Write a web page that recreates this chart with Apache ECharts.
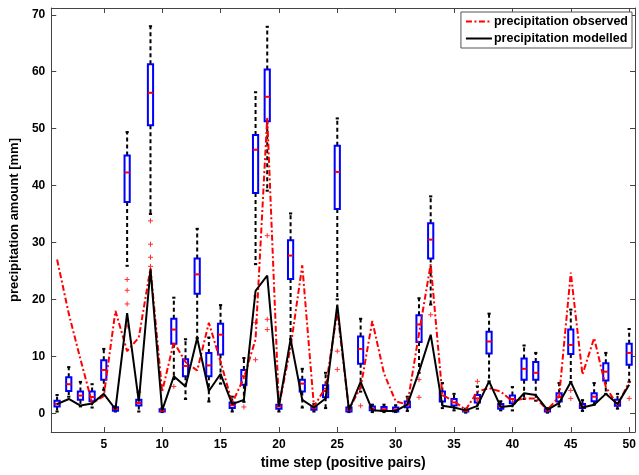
<!DOCTYPE html>
<html><head><meta charset="utf-8">
<script src="https://cdn.jsdelivr.net/npm/echarts@6/dist/echarts.min.js"></script>
<style>html,body{margin:0;padding:0;background:#fff}#c{width:639px;height:475px}</style>
</head><body><div id="c"></div>
<script>
const timeSteps = [1,2,3,4,5,6,7,8,9,10,11,12,13,14,15,16,17,18,19,20,21,22,23,24,25,26,27,28,29,30,31,32,33,34,35,36,37,38,39,40,41,42,43,44,45,46,47,48,49,50];
const observed = [27.0,17.5,9.5,1.8,3.0,18.0,10.9,13.3,25.5,3.8,12.5,9.0,7.5,15.9,9.1,1.8,6.2,13.0,52.0,1.2,11.6,26.0,1.2,4.5,17.9,0.7,4.5,16.2,7.0,2.1,1.5,14.0,26.2,3.2,2.1,0.6,3.8,4.4,3.8,2.1,2.6,2.6,0.6,2.9,24.7,6.8,13.2,4.6,1.4,5.5];
const modelled = [1.6,2.5,1.35,1.7,3.4,0.7,17.6,2.05,25.3,0.5,6.5,4.7,13.2,3.9,6.9,1.6,2.35,21.5,24.2,1.2,13.0,2.35,1.0,2.6,19.1,0.5,5.5,0.5,0.4,0.4,1.5,7.3,13.8,1.3,1.0,0.5,1.3,5.6,1.1,1.3,3.5,3.2,0.6,1.8,5.5,1.0,1.5,3.4,1.6,5.0];
const boxLow  = [0.3,2.9,1.2,1.0,4.1,0.3,25.9,0.3,35.0,0.2,6.0,2.5,13.2,2.05,5.2,0.3,2.0,26.2,39.1,0.3,13.0,1.0,0.3,0.9,20.0,0.2,3.8,0.2,0.2,0.2,0.4,7.1,19.1,0.9,0.5,0.1,0.8,5.6,0.5,0.5,2.5,2.2,0.1,1.2,5.5,0.4,1.5,3.4,0.8,5.5];
const boxQ1   = [1.2,3.9,2.35,2.1,5.9,0.45,37.1,1.35,50.6,0.3,12.2,6.5,21.0,6.5,10.3,0.9,5.0,38.7,51.3,0.8,23.6,3.8,0.6,2.8,35.9,0.3,8.7,0.5,0.4,0.3,1.05,12.5,27.2,2.05,1.35,0.3,1.9,10.5,0.8,1.75,5.9,5.9,0.3,2.05,10.4,0.9,2.1,5.75,1.3,8.5];
const boxMed  = [1.65,5.1,3.1,2.85,7.6,0.75,42.3,1.8,56.3,0.45,14.7,8.3,24.4,8.4,13.8,1.4,6.5,46.3,55.6,1.2,27.7,5.2,0.9,3.9,42.4,0.6,11.3,0.8,0.7,0.6,1.5,15.6,30.5,3.1,1.9,0.4,2.6,12.6,1.2,2.5,7.8,7.1,0.5,2.85,12.0,1.2,2.9,7.3,1.8,10.6];
const boxQ3   = [2.2,6.3,3.8,3.8,9.3,1.05,45.3,2.35,61.3,0.7,16.6,9.5,27.2,10.6,15.7,1.9,7.6,48.9,60.4,1.5,30.4,5.9,1.2,4.9,47.0,1.0,13.5,1.2,1.1,1.0,2.05,17.2,33.4,3.8,2.5,0.6,3.2,14.3,1.6,3.1,9.6,9.0,0.7,3.5,14.7,1.6,3.5,8.8,2.35,12.2];
const boxHigh = [3.2,8.1,5.5,5.1,11.3,1.2,49.4,3.9,68.0,0.9,20.3,13.0,32.4,13.3,19.0,2.9,9.7,56.4,67.9,2.0,35.1,7.8,1.6,7.1,51.8,1.3,16.6,1.5,1.5,1.4,2.9,20.2,38.1,5.3,3.4,0.8,4.7,17.5,2.1,4.6,11.9,10.6,0.9,5.3,18.2,2.3,5.3,10.6,3.4,14.8];
const outlierSteps  = [7,7,7,7,8,9,9,9,9,11,17,18,18,18,19,19,19,25,25,27,32,32,33,37,37,45,45,50];
const outlierValues = [23.5,21.6,19.2,15.3,3.7,33.8,29.7,27.4,25.8,4.7,1.1,20.6,15.9,9.4,31.2,16.5,14.7,10.9,7.7,1.3,5.9,2.8,17.3,5.6,2.3,4.0,2.6,2.6];
const xTicks = [5,10,15,20,25,30,35,40,45,50];
const yTicks = [0,10,20,30,40,50,60,70];

const chart = echarts.init(document.getElementById('c'), null, {renderer:'canvas'});
const boxData = timeSteps.map((s,i)=>[s, boxLow[i], boxQ1[i], boxMed[i], boxQ3[i], boxHigh[i]]);
const outData = outlierSteps.map((s,i)=>[s, outlierValues[i]]);

function renderBox(params, api){
  const x = api.value(0);
  const lo = api.coord([x, api.value(1)]);
  const q1 = api.coord([x, api.value(2)]);
  const md = api.coord([x, api.value(3)]);
  const q3 = api.coord([x, api.value(4)]);
  const hi = api.coord([x, api.value(5)]);
  const cx = lo[0], hw = 2.6, cw = 1.6;
  const dash = {stroke:'#000', lineWidth:2, lineDash:[4,3], fill:null};
  const solid = {stroke:'#000', lineWidth:2, fill:null};
  return {type:'group', children:[
    {type:'line', shape:{x1:cx,y1:q3[1],x2:cx,y2:hi[1]}, style:dash},
    {type:'line', shape:{x1:cx,y1:q1[1],x2:cx,y2:lo[1]}, style:dash},
    {type:'line', shape:{x1:cx-cw,y1:hi[1],x2:cx+cw,y2:hi[1]}, style:solid},
    {type:'line', shape:{x1:cx-cw,y1:lo[1],x2:cx+cw,y2:lo[1]}, style:solid},
    {type:'rect', shape:{x:cx-hw,y:q3[1],width:2*hw,height:Math.max(q1[1]-q3[1],1)}, style:{fill:'#fff', stroke:'#0000ff', lineWidth:2}},
    {type:'line', shape:{x1:cx-hw,y1:md[1],x2:cx+hw,y2:md[1]}, style:{stroke:'#ff0000', lineWidth:2}}
  ]};
}
function renderPlus(params, api){
  const p = api.coord([api.value(0), api.value(1)]);
  const s = 2.5;
  return {type:'group', children:[
    {type:'line', shape:{x1:p[0]-s,y1:p[1],x2:p[0]+s,y2:p[1]}, style:{stroke:'#ff3030',lineWidth:1}},
    {type:'line', shape:{x1:p[0],y1:p[1]-s,x2:p[0],y2:p[1]+s}, style:{stroke:'#ff3030',lineWidth:1}}
  ]};
}
const axisCol = '#444';
const labelFont = {color:'#000', fontWeight:'bold', fontSize:12, fontFamily:'Liberation Sans, Arial, sans-serif'};
chart.setOption({
  animation:false,
  backgroundColor:'#fff',
  grid:{left:48, right:4, top:8, bottom:43, containLabel:false},
  legend:{
    data:['precipitation observed','precipitation modelled'],
    orient:'vertical', right:7, top:12, itemGap:4, itemWidth:26, itemHeight:10,
    padding:[3,4,3,4], borderColor:'#555', borderWidth:1, backgroundColor:'#fff',
    itemStyle:{opacity:0},
    textStyle:{color:'#000', fontWeight:'bold', fontSize:12.5, fontFamily:'Liberation Sans, Arial, sans-serif', padding:[0,0,0,-3]},
    selectedMode:false
  },
  xAxis:[
    {type:'value', min:0.5, max:50.5, position:'bottom',
     name:'time step (positive pairs)', nameLocation:'middle', nameGap:22,
     nameTextStyle:{color:'#000', fontWeight:'bold', fontSize:14, fontFamily:'Liberation Sans, Arial, sans-serif'},
     axisLine:{show:true, onZero:false, lineStyle:{color:axisCol, width:1}},
     axisTick:{show:true, inside:true, length:5, customValues:xTicks, lineStyle:{color:axisCol}},
     axisLabel:{show:true, customValues:xTicks, margin:7, ...labelFont},
     splitLine:{show:false}},
    {type:'value', min:0.5, max:50.5, position:'top',
     axisLine:{show:true, onZero:false, lineStyle:{color:axisCol, width:1}},
     axisTick:{show:true, inside:true, length:5, customValues:xTicks, lineStyle:{color:axisCol}},
     axisLabel:{show:false}, splitLine:{show:false}}
  ],
  yAxis:[
    {type:'value', min:-3.3, max:71.2, position:'left',
     name:'precipitation amount [mm]', nameLocation:'middle', nameGap:26, nameRotate:90,
     nameTextStyle:{color:'#000', fontWeight:'bold', fontSize:13, fontFamily:'Liberation Sans, Arial, sans-serif'},
     axisLine:{show:true, onZero:false, lineStyle:{color:axisCol, width:1}},
     axisTick:{show:true, inside:true, length:5, customValues:yTicks, lineStyle:{color:axisCol}},
     axisLabel:{show:true, customValues:yTicks, margin:6, ...labelFont},
     splitLine:{show:false}},
    {type:'value', min:-3.3, max:71.2, position:'right',
     axisLine:{show:true, onZero:false, lineStyle:{color:axisCol, width:1}},
     axisTick:{show:true, inside:true, length:5, customValues:yTicks, lineStyle:{color:axisCol}},
     axisLabel:{show:false}, splitLine:{show:false}}
  ],
  series:[
    {type:'custom', name:'boxes', renderItem:renderBox, data:boxData, encode:{x:0, y:[1,2,3,4,5]}, z:2, silent:true},
    {type:'custom', name:'outliers', renderItem:renderPlus, data:outData, encode:{x:0, y:1}, z:3, silent:true},
    {type:'line', name:'precipitation observed', data:timeSteps.map((s,i)=>[s, observed[i]]),
     showSymbol:false, symbol:'none', z:4,
     lineStyle:{color:'#ff0000', width:2, type:[6,2.5,2,2.5]}, itemStyle:{color:'#ff0000'}},
    {type:'line', name:'precipitation modelled', data:timeSteps.map((s,i)=>[s, modelled[i]]),
     showSymbol:false, symbol:'none', z:5,
     lineStyle:{color:'#000', width:2}, itemStyle:{color:'#000'}}
  ]
});
</script></body></html>
